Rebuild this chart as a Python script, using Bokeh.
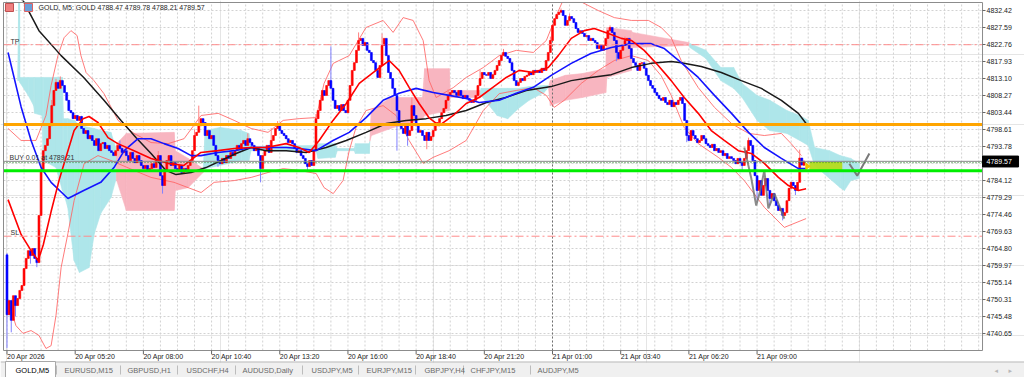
from bokeh.plotting import figure
from bokeh.models import Range1d, Label, ColumnDataSource
from bokeh.embed import file_html
from bokeh.resources import INLINE
from bokeh.core.properties import value

FONT = "Liberation Sans"

# ---------------- data (GOLD, M5) ----------------
first_open = 4763.0
closes = [
    4746.0, 4750.0, 4744.4, 4751.4, 4748.6, 4750.6, 4752.9, 4754.3, 4759.1, 4762.0,
    4764.2, 4762.8, 4764.8, 4762.0, 4760.8, 4774.2, 4787.0, 4792.6, 4794.1, 4796.0,
    4799.7, 4805.4, 4809.7, 4812.0, 4810.3, 4812.5, 4811.1, 4809.1, 4806.9, 4804.0,
    4803.4, 4801.7, 4802.6, 4801.2, 4802.3, 4798.9, 4797.5, 4798.3, 4796.0, 4796.9,
    4795.5, 4794.1, 4796.0, 4792.6, 4794.6, 4794.9, 4793.2, 4794.1, 4792.6, 4792.1,
    4791.2, 4792.6, 4794.1, 4793.2, 4792.1, 4792.6, 4791.2, 4789.8, 4792.1, 4790.4,
    4789.2, 4791.2, 4789.8, 4788.4, 4787.5, 4788.4, 4787.0, 4787.5, 4788.9, 4787.8,
    4789.8, 4791.2, 4785.5, 4782.7, 4787.0, 4789.8, 4791.2, 4788.4, 4789.2, 4787.5,
    4787.0, 4788.4, 4786.4, 4787.5, 4787.0, 4788.4, 4789.8, 4792.6, 4796.9, 4797.8,
    4799.7, 4801.7, 4800.6, 4796.9, 4798.3, 4796.0, 4796.9, 4794.1, 4791.2, 4789.8,
    4788.9, 4790.4, 4789.2, 4791.2, 4790.4, 4792.1, 4791.2, 4792.6, 4794.1, 4793.2,
    4794.6, 4795.5, 4794.1, 4796.0, 4794.9, 4794.1, 4792.6, 4793.2, 4791.2, 4787.5,
    4791.2, 4792.6, 4794.1, 4792.1, 4795.5, 4796.9, 4798.9, 4799.7, 4798.3, 4797.5,
    4796.9, 4796.0, 4794.9, 4795.5, 4794.6, 4793.2, 4792.1, 4792.6, 4791.2, 4790.4,
    4788.9, 4788.1, 4789.8, 4788.4, 4792.6, 4801.7, 4804.0, 4806.9, 4809.7, 4808.3,
    4811.1, 4812.5, 4810.3, 4806.9, 4804.6, 4805.4, 4804.0, 4805.7, 4804.0, 4803.4,
    4806.9, 4811.1, 4815.4, 4817.6, 4821.1, 4823.9, 4824.5, 4822.5, 4823.3, 4821.1,
    4820.5, 4818.2, 4817.6, 4815.4, 4813.4, 4816.8, 4822.5, 4824.5, 4819.6, 4814.8,
    4813.1, 4810.3, 4808.3, 4804.0, 4799.7, 4798.9, 4797.5, 4799.7, 4796.9, 4798.3,
    4805.4, 4802.6, 4799.7, 4797.8, 4798.3, 4796.9, 4795.5, 4797.8, 4795.5, 4796.6,
    4798.3, 4799.7, 4800.6, 4801.7, 4803.4, 4804.6, 4806.9, 4808.3, 4809.1, 4809.7,
    4809.1, 4808.3, 4809.7, 4808.3, 4807.4, 4808.3, 4807.4, 4806.9, 4806.3, 4806.9,
    4808.3, 4811.1, 4813.1, 4814.8, 4814.2, 4814.0, 4814.8, 4813.1, 4814.2, 4815.4,
    4816.8, 4818.2, 4819.6, 4820.5, 4819.4, 4818.8, 4817.6, 4815.4, 4812.5, 4811.1,
    4812.0, 4813.1, 4812.5, 4813.7, 4814.0, 4814.8, 4814.2, 4815.4, 4814.8, 4815.4,
    4814.8, 4816.0, 4815.4, 4818.2, 4820.5, 4823.9, 4828.2, 4830.1, 4831.3, 4831.9,
    4832.4, 4831.0, 4828.2, 4829.6, 4830.7, 4830.1, 4829.0, 4827.3, 4826.2, 4826.7,
    4825.9, 4825.0, 4825.3, 4823.9, 4824.5, 4823.9, 4823.3, 4821.6, 4822.5, 4821.1,
    4822.5, 4824.5, 4826.7, 4827.6, 4826.2, 4823.9, 4820.5, 4818.8, 4821.1, 4822.5,
    4823.9, 4824.5, 4821.6, 4818.8, 4817.6, 4816.8, 4815.4, 4817.4, 4817.6, 4816.0,
    4814.0, 4812.5, 4811.1, 4810.3, 4809.1, 4808.3, 4807.4, 4806.9, 4807.7, 4806.3,
    4805.7, 4806.9, 4805.1, 4806.3, 4805.7, 4806.9, 4807.7, 4806.0, 4801.2, 4796.9,
    4795.5, 4798.3, 4796.9, 4796.0, 4794.9, 4795.5, 4796.9, 4796.0, 4794.6, 4794.1,
    4793.5, 4794.4, 4792.6, 4793.2, 4792.1, 4792.6, 4791.2, 4791.8, 4790.4, 4790.9,
    4790.4, 4789.8, 4788.9, 4790.4, 4789.2, 4788.4, 4790.4, 4792.6, 4795.5, 4794.1,
    4789.8, 4785.5, 4781.3, 4784.1, 4779.9, 4782.7, 4784.7, 4781.3, 4779.0, 4780.4,
    4778.4, 4777.0, 4775.6, 4776.2, 4774.2, 4775.0, 4778.4, 4781.9, 4783.6, 4782.7,
    4781.3, 4783.6, 4790.5, 4788.5,
]
last_ohlc = (4788.47, 4789.78, 4788.21, 4789.57)

wick_high = {0: 4763.5, 16: 4789.0, 21: 4807.0, 23: 4813.0, 25: 4813.7, 35: 4802.5,
             53: 4795.5, 71: 4792.5, 88: 4798.5, 90: 4805.4, 113: 4797.5, 124: 4799.0,
             127: 4801.0, 145: 4803.0, 152: 4822.2, 165: 4826.2, 176: 4825.9, 190: 4807.7,
             207: 4810.0, 222: 4815.5, 233: 4821.5, 255: 4825.0, 260: 4833.0, 264: 4831.5,
             283: 4828.2, 290: 4825.0, 348: 4796.3, 372: 4792.9}
wick_low = {0: 4736.5, 2: 4741.0, 4: 4745.5, 11: 4760.5, 14: 4759.5, 73: 4780.4,
            99: 4788.0, 119: 4783.6, 141: 4787.0, 183: 4792.6, 188: 4794.0, 197: 4793.0,
            286: 4818.0, 319: 4795.0, 345: 4786.8, 352: 4778.5, 358: 4777.0, 364: 4772.8,
            370: 4780.0}

# indicator readings: (bar index, price)
red_ma = [(0.5, 4778.7), (6.6, 4768.8), (11.3, 4764.2), (14.6, 4761.4), (17, 4765.8), (20.7, 4775.3),
          (24.4, 4784.1), (28.6, 4792.6), (31.5, 4798.3), (35.7, 4801.7), (38.5, 4802.3), (42.7, 4800.6),
          (47.4, 4796.3), (52, 4794.6), (59.6, 4792.6), (67.6, 4790.4), (75.6, 4789.0), (83, 4788.4),
          (91, 4792.1), (99, 4792.6), (106.6, 4793.2), (114.6, 4793.5), (121.6, 4793.5), (131, 4794.6),
          (137, 4793.5), (141.8, 4792.1), (146.5, 4795.5), (153, 4801.2), (159.2, 4806.0), (165.3, 4811.7),
          (171.8, 4814.8), (179.3, 4818.2), (184, 4815.4), (188.7, 4810.6), (193.4, 4806.0), (198, 4802.0),
          (202.8, 4799.7), (209.4, 4802.6), (215.5, 4806.0), (221.6, 4807.7), (228, 4810.6), (234.3, 4813.4),
          (240.4, 4815.4), (247, 4814.8), (254, 4816.2), (258.7, 4819.6), (264.8, 4824.5), (270.9, 4826.7),
          (275.6, 4827.3), (282.2, 4825.9), (288.3, 4824.5), (293, 4823.9), (299, 4821.1), (305.6, 4816.8),
          (311.7, 4812.5), (317.8, 4807.7), (324.4, 4803.2), (330.5, 4798.3), (336.6, 4795.5), (343.2, 4792.6),
          (349.3, 4791.8), (355.4, 4789.0), (362, 4785.0), (366.7, 4782.7), (371.4, 4781.3), (375, 4781.8)]
blue_ma = [(0.5, 4820.5), (6.6, 4805.1), (11.3, 4795.5), (16, 4787.8), (20.7, 4783.6), (28.6, 4779.0),
           (36, 4781.3), (44, 4783.6), (50.2, 4787.8), (55, 4792.6), (61.5, 4796.0), (67.6, 4796.0),
           (73.7, 4794.6), (80.3, 4793.2), (86.4, 4791.2), (91, 4791.2), (99, 4792.1), (106.6, 4792.6),
           (114.6, 4793.5), (122.5, 4793.5), (131, 4793.5), (137, 4793.2), (145, 4792.6), (153, 4795.5),
           (160.6, 4797.8), (168.5, 4802.0), (176.5, 4806.9), (184, 4808.9), (192, 4810.3), (200, 4809.1),
           (207.5, 4808.3), (215.5, 4807.4), (221.6, 4806.3), (231, 4806.9), (239, 4808.9), (247, 4810.6),
           (255.4, 4814.0), (264.8, 4817.4), (274, 4820.2), (283.6, 4821.9), (293, 4823.0), (302.3, 4823.0),
           (308.5, 4821.6), (316.4, 4817.6), (324.4, 4813.4), (332, 4808.3), (340, 4803.2), (348, 4797.8),
           (355.4, 4793.5), (363.4, 4790.4), (371.4, 4787.5), (375, 4787.5)]
black_ma = [(5.5, 4836.0), (7.5, 4835.3), (15, 4826.7), (25.4, 4819.6), (36, 4813.4), (45.5, 4806.9),
            (53.5, 4801.2), (60.6, 4796.3), (67.6, 4791.8), (74.6, 4787.0), (79.3, 4785.8), (86.4, 4786.4),
            (93.4, 4787.8), (100.5, 4789.8), (107.5, 4791.8), (114.6, 4793.5), (121.6, 4792.6), (131, 4792.6),
            (140.4, 4792.1), (149.8, 4793.5), (159.2, 4795.5), (168.5, 4797.8), (178, 4800.3), (187.3, 4801.2),
            (196.7, 4801.7), (206, 4802.6), (215.5, 4804.0), (225, 4806.3), (234, 4807.7), (243.7, 4809.7),
            (255.4, 4810.8), (264.8, 4812.5), (274, 4813.4), (283.6, 4814.2), (293, 4816.2), (302.3, 4817.4),
            (311.7, 4817.9), (316.4, 4817.6), (325.8, 4816.5), (335.2, 4814.8), (344.6, 4812.5), (354, 4810.3),
            (363.4, 4806.9), (371.4, 4803.2), (375, 4800.3)]
bb_upper = [(0.5, 4798.9), (6.6, 4795.5), (13.6, 4795.5), (18.3, 4802.6), (20.7, 4811.1), (23.9, 4819.6),
            (26.8, 4824.7), (30, 4826.7), (32.9, 4825.3), (34.7, 4819.6), (37.1, 4814.8), (40.8, 4812.5),
            (45.5, 4808.8), (52.1, 4801.2), (59.6, 4797.5), (67.6, 4794.9), (75.6, 4794.6), (83.1, 4796.0),
            (91.1, 4802.6), (99.1, 4803.2), (106.6, 4801.2), (114.6, 4798.9), (122.5, 4797.8), (129.6, 4801.2),
            (137.1, 4801.7), (145.1, 4802.0), (148.8, 4811.7), (153.1, 4817.4), (160.6, 4819.6), (168.5, 4827.6),
            (176.5, 4829.6), (181.2, 4826.2), (185.9, 4830.4), (190.6, 4829.6), (195.3, 4823.9), (198.1, 4812.5),
            (201.4, 4807.7), (209.4, 4810.5), (215.5, 4813.4), (223.5, 4816.2), (231, 4819.6), (239, 4821.1),
            (247, 4820.5), (253.1, 4823.9), (257.8, 4831.0), (260.5, 4834.7), (270, 4834.7), (277.5, 4832.4),
            (285, 4830.4), (293, 4829.6), (301, 4829.6), (307, 4827.6), (311.7, 4824.7), (316.4, 4818.2),
            (324.4, 4810.5), (332, 4804.9), (340, 4800.3), (348, 4797.5), (355.4, 4796.9), (363.4, 4797.5),
            (368, 4794.6), (372.8, 4791.2)]
bb_lower = [(0.5, 4750.0), (4.2, 4742.9), (7.5, 4740.7), (11.3, 4741.5), (15, 4740.1), (18.3, 4736.4),
            (20.7, 4737.2), (23, 4745.8), (25.4, 4759.4), (28.6, 4769.1), (31.5, 4778.4), (36.2, 4788.9),
            (42.7, 4791.2), (48.8, 4789.8), (59.6, 4787.0), (67.6, 4785.0), (78.4, 4783.6), (85, 4782.1),
            (91.1, 4780.7), (97.2, 4783.6), (106.6, 4784.1), (114.6, 4785.0), (122.5, 4786.4), (129.6, 4787.5),
            (137.1, 4787.0), (145.1, 4786.1), (148.8, 4782.1), (153.1, 4780.4), (157.7, 4784.1), (160.6, 4792.6),
            (163.8, 4799.2), (168.5, 4804.0), (176.5, 4805.4), (182.6, 4802.6), (188.7, 4795.5), (195.3, 4789.0),
            (200, 4790.7), (207.5, 4792.6), (215.5, 4795.5), (223.5, 4804.0), (231, 4808.8), (239, 4809.7),
            (247, 4810.5), (253.1, 4808.3), (256.8, 4804.9), (261.5, 4806.9), (269.5, 4811.7), (277.5, 4815.4),
            (285, 4818.2), (293, 4819.6), (301, 4818.2), (307, 4813.9), (311.7, 4808.3), (317.8, 4799.2),
            (324.4, 4794.6), (333.8, 4790.7), (340, 4787.8), (346, 4784.1), (355.4, 4776.5), (364.8, 4770.8),
            (375, 4773.3)]
# Ichimoku cloud: (bar index, senkou A, senkou B)
cloud = [(5.0, 4812.5, 4812.5), (5.5, 4812.5, 4834.6), (5.9, 4812.5, 4834.6), (6.0, 4812.0, 4813.4),
         (10, 4808.3, 4813.4), (12.5, 4805.4, 4813.4), (13, 4803.2, 4813.4), (16.5, 4802.6, 4813.4),
         (17, 4789.8, 4813.4), (23, 4787.8, 4813.4), (26, 4781.3, 4813.4), (26.5, 4780.7, 4801.7),
         (28.5, 4776.5, 4801.7), (31.5, 4761.4, 4801.2), (34, 4758.0, 4799.8), (38.5, 4759.4, 4799.2),
         (41, 4769.1, 4798.9), (44, 4774.8, 4798.3), (48.8, 4779.3, 4797.8), (51, 4784.1, 4793.5),
         (51.5, 4794.6, 4784.1), (56, 4797.5, 4775.6), (78.4, 4797.8, 4775.6), (79, 4792.6, 4781.3),
         (85, 4790.4, 4782.1), (92, 4787.5, 4786.4), (93, 4787.5, 4798.3), (100, 4788.4, 4799.2),
         (110, 4789.8, 4798.3), (113.5, 4789.8, 4797.5), (114.5, 4792.6, 4793.8), (145, 4792.6, 4794.1),
         (146, 4790.4, 4794.6), (154, 4790.7, 4794.6), (155, 4792.6, 4793.2), (163, 4792.6, 4793.2),
         (163.5, 4791.8, 4794.6), (170, 4791.8, 4794.6), (171, 4804.0, 4796.9), (180, 4807.7, 4798.9),
         (195, 4807.7, 4801.7), (196, 4815.9, 4802.6), (207.5, 4815.9, 4804.0), (208, 4809.7, 4807.7),
         (222, 4809.7, 4807.7), (222.5, 4808.3, 4810.3), (230, 4802.6, 4810.3), (235, 4801.7, 4810.3),
         (240, 4804.6, 4810.3), (245, 4806.9, 4810.8), (252, 4809.1, 4811.1), (254, 4810.5, 4811.1),
         (255, 4812.5, 4805.4), (262, 4814.0, 4806.9), (270, 4814.5, 4807.7), (281, 4815.9, 4809.1),
         (281.5, 4827.6, 4813.4), (293, 4826.7, 4815.4), (293.5, 4826.2, 4821.9), (320, 4823.3, 4822.5),
         (320.5, 4821.9, 4823.0), (328, 4818.8, 4821.1), (335, 4812.5, 4816.2), (341, 4810.3, 4816.2),
         (345, 4807.7, 4811.7), (352, 4801.2, 4808.3), (358, 4798.3, 4806.9), (366, 4797.5, 4804.0),
         (372, 4795.5, 4802.6), (376, 4794.1, 4801.2), (379, 4788.4, 4793.5), (386, 4784.7, 4792.6),
         (391, 4782.1, 4791.2), (393, 4781.3, 4790.9), (396, 4784.1, 4790.4), (400, 4784.7, 4788.9)]
gray_path = [(346, 4793.5), (349.3, 4784.7), (351.6, 4777.0), (353.5, 4781.3), (355.4, 4787.0),
             (357.3, 4776.2), (360.1, 4780.4), (362.4, 4777.0), (364.8, 4773.3)]
check_mark = [(395.3, 4788.9), (399, 4785.5), (404.7, 4791.8)]
zone_bars = (376.5, 392.0)
zone_prices = (4786.9, 4789.4)

tp_price, sl_price = 4822.7, 4768.3
orange_level, green_level = 4800.0, 4786.9
bid_price, entry_price = 4789.57, 4789.21
day_sep_bar = 256

price_ticks = [4740.65, 4745.48, 4750.31, 4755.14, 4759.97, 4764.80, 4769.63, 4774.46, 4779.29,
               4784.12, 4788.95, 4793.78, 4798.61, 4803.44, 4808.27, 4813.10, 4817.93, 4822.76,
               4827.59, 4832.42]
time_tick_bars = [0, 32, 64, 96, 128, 160, 192, 224, 256, 288, 320, 352]
time_tick_labels = ["20 Apr 2026", "20 Apr 05:20", "20 Apr 08:00", "20 Apr 10:40", "20 Apr 13:20",
                    "20 Apr 16:00", "20 Apr 18:40", "20 Apr 21:20", "21 Apr 01:00", "21 Apr 03:40",
                    "21 Apr 06:20", "21 Apr 09:00"]
grid_bars = list(range(0, 464, 8))

tab_names = ["GOLD,M5", "EURUSD,M15", "GBPUSD,H1", "USDCHF,H4", "AUDUSD,Daily", "USDJPY,M5",
             "EURJPY,M15", "GBPJPY,H4", "CHFJPY,M15", "AUDJPY,M5"]
tab_text_x = [15, 64, 127, 186, 242, 311, 366, 424, 470, 537]
tab_sep_x = [56, 120, 177, 235, 302, 358, 415, 463, 530]

# ---------------- build candles ----------------
n = len(closes) + 1
opens = ([first_open] + closes)[:n - 1] + [last_ohlc[0]]
cl = closes + [last_ohlc[3]]
hi = [max(o, c) for o, c in zip(opens, cl)]
lo = [min(o, c) for o, c in zip(opens, cl)]
for k, v in wick_high.items():
    hi[k] = max(hi[k], v)
for k, v in wick_low.items():
    lo[k] = min(lo[k], v)
hi[-1], lo[-1] = last_ohlc[1], last_ohlc[2]
bull = [c >= o for o, c in zip(opens, cl)]
src = ColumnDataSource(dict(
    x=list(range(n)), top=[max(o, c) for o, c in zip(opens, cl)],
    bottom=[min(o, c) for o, c in zip(opens, cl)], hi=hi, lo=lo,
    body=["#ff0000" if b else "#0000ff" for b in bull],
    wick=["#ff8080" if b else "#8080ff" for b in bull]))

# ---------------- one canvas: bars x price, plus a pixel space for the terminal chrome ----------------
X0, X1 = -1.64, 457.8          # chart window in bars
Y0, Y1 = 4735.83, 4834.69      # chart window in price
p = figure(width=1024, height=377, x_range=Range1d(-3.05, 477.5), y_range=Range1d(4728.16, 4835.26),
           x_axis_location=None, y_axis_location=None, toolbar_location=None, output_backend="svg",
           min_border=0, outline_line_color=None, background_fill_color="white", border_fill_color="white")
p.extra_x_ranges = {"px": Range1d(0, 1024)}
p.extra_y_ranges = {"py": Range1d(377, 0)}
PX = dict(x_range_name="px", y_range_name="py")

# grid
p.segment(x0=grid_bars, y0=[Y0] * len(grid_bars), x1=grid_bars, y1=[Y1] * len(grid_bars),
          line_color="#d2d2d2", line_dash="2 2", line_width=1)
p.segment(x0=[X0] * len(price_ticks), y0=price_ticks, x1=[X1] * len(price_ticks), y1=price_ticks,
          line_color="#d2d2d2", line_dash="2 2", line_width=1)

# Ichimoku cloud
CYAN, PINK = "#aee6ea", "#f8b5c0"
cxs, cys, ccs = [], [], []
for (i0, a0, b0), (i1, a1, b1) in zip(cloud[:-1], cloud[1:]):
    d0, d1 = b0 - a0, b1 - a1
    if d0 * d1 < 0:
        t = d0 / (d0 - d1)
        im = i0 + t * (i1 - i0)
        m = a0 + t * (a1 - a0)
        pieces = [(i0, a0, b0, im, m, m), (im, m, m, i1, a1, b1)]
    else:
        pieces = [(i0, a0, b0, i1, a1, b1)]
    for (j0, p0, q0, j1, p1, q1) in pieces:
        cxs.append([j0, j1, j1, j0])
        cys.append([p0, p1, q1, q0])
        ccs.append(CYAN if (q0 - p0) + (q1 - p1) > 0 else PINK)
p.patches(cxs, cys, fill_color=ccs, line_color=ccs, line_width=0.6)

# day separator
p.segment(x0=[day_sep_bar], y0=[Y0], x1=[day_sep_bar], y1=[Y1], line_color="#707070", line_dash="2 2")

# Bollinger bands
for band in (bb_upper, bb_lower):
    p.line([b for b, _ in band], [v for _, v in band], line_color="#ff6464", line_width=1, line_alpha=0.85)

# candles
p.segment(x0="x", y0="hi", x1="x", y1="lo", source=src, line_color="wick", line_width=1)
p.vbar(x="x", width=0.9, top="top", bottom="bottom", source=src, fill_color="body",
       line_color="body", line_width=0.6)

# moving averages
p.line([b for b, _ in black_ma], [v for _, v in black_ma], line_color="#1a1a1a", line_width=1.5)
p.line([b for b, _ in blue_ma], [v for _, v in blue_ma], line_color="#1414ff", line_width=1.6)
p.line([b for b, _ in red_ma], [v for _, v in red_ma], line_color="#ff0000", line_width=1.6)

# pattern path + check mark
p.line([b for b, _ in gray_path], [v for _, v in gray_path], line_color="#6e6e6e", line_width=2, line_alpha=0.8)
p.line([b for b, _ in check_mark], [v for _, v in check_mark], line_color="#7a7a7a", line_width=2)

# position zone
p.quad(left=zone_bars[0], right=zone_bars[1], bottom=zone_prices[0], top=zone_prices[1],
       fill_color="#b4dc1e", line_color=None, fill_alpha=0.95)
p.patch([374.6, 377.2, 374.6], [zone_prices[1], (zone_prices[0] + zone_prices[1]) / 2, zone_prices[0]],
        fill_color="#f2c200", line_color=None)

# level lines
def hline(y, **kw):
    p.segment(x0=[X0], y0=[y], x1=[X1], y1=[y], **kw)

hline(tp_price, line_color="#ff8c8c", line_dash="8 3 2 3", line_width=1)
hline(sl_price, line_color="#ff8c8c", line_dash="8 3 2 3", line_width=1)
hline(orange_level, line_color="#ffa500", line_width=3)
hline(green_level, line_color="#00ee00", line_width=3)
hline(bid_price, line_color="#8a8a8a", line_width=1)
hline(entry_price, line_color="#2e8b2e", line_dash="1 2", line_width=1)

# chart frame
p.quad(left=X0, right=X1, bottom=Y0, top=Y1, fill_color=None, line_color="#8c8c8c", line_width=1)

# price scale (right)
p.segment(x0=[X1] * len(price_ticks), y0=price_ticks, x1=[X1 + 1.4] * len(price_ticks), y1=price_ticks,
          line_color="#666666")
p.text(x=[X1 + 1.9] * len(price_ticks), y=price_ticks, text=["%.2f" % t for t in price_ticks],
       text_font=value(FONT), text_font_size="7px", text_baseline="middle", text_align="left",
       text_color="#222222")

# bid price box on the scale
p.quad(left=[X1], right=[X1 + 16.9], bottom=[bid_price - 1.6], top=[bid_price + 1.5],
       fill_color="black", line_color="black")
p.text(x=[X1 + 1.9], y=[bid_price], text=["%.2f" % bid_price], text_font=value(FONT),
       text_font_size="7px", text_baseline="middle", text_align="left", text_color="white")

# time scale (bottom)
p.segment(x0=time_tick_bars, y0=[Y0] * len(time_tick_bars), x1=time_tick_bars,
          y1=[Y0 - 1.1] * len(time_tick_bars), line_color="#666666")
p.text(x=time_tick_bars, y=[Y0 - 0.85] * len(time_tick_bars), text=time_tick_labels,
       text_font=value(FONT), text_font_size="7px", text_baseline="top", text_align="left",
       text_color="#222222")

# texts on the chart
lab = dict(text_font=FONT, text_font_size="7px", text_color="#333333")
p.add_layout(Label(x=10, y=tp_price, x_units="screen", text="TP", text_baseline="bottom", **lab))
p.add_layout(Label(x=10, y=sl_price, x_units="screen", text="SL", text_baseline="bottom", **lab))
p.add_layout(Label(x=9, y=bid_price, x_units="screen", text="BUY 0.01 at 4789.21", text_baseline="bottom", **lab))
p.text(x=[38], y=[3], text=["GOLD, M5:  GOLD  4788.47 4789.78 4788.21 4789.57"], text_font=value(FONT),
       text_font_size="7px", text_baseline="top", text_color="#1e1e1e", **PX)
p.quad(left=[5, 24], right=[13, 32], top=[3, 3], bottom=[11, 11], fill_color=["#f08080", "#6a9fd8"],
       line_color=["#c05050", "#e06060"], **PX)

# ---------------- tab bar ----------------
p.quad(left=[0], right=[1024], top=[362], bottom=[377], fill_color="#f0f0f0", line_color=None, **PX)
p.segment(x0=[0], y0=[361.5], x1=[1024], y1=[361.5], line_color="#b4b4b4", line_width=1, **PX)
p.quad(left=[5], right=[55], top=[361], bottom=[378], fill_color="white", line_color="#a8a8a8", **PX)
p.segment(x0=tab_sep_x, y0=[365] * len(tab_sep_x), x1=tab_sep_x, y1=[374] * len(tab_sep_x),
          line_color="#bcbcbc", line_width=1, **PX)
p.text(x=tab_text_x, y=[370] * len(tab_text_x), text=tab_names, text_font=value(FONT),
       text_font_size="7.5px", text_baseline="middle",
       text_color=["#000000"] + ["#6a6a6a"] * (len(tab_names) - 1), **PX)
p.text(x=[994, 1008], y=[370, 370], text=["\u25C2", "\u25B8"], text_font=value("DejaVu Sans"),
       text_font_size="7px", text_baseline="middle", text_color="#b8b8b8", **PX)

open("out.html", "w").write(file_html(p, INLINE))
